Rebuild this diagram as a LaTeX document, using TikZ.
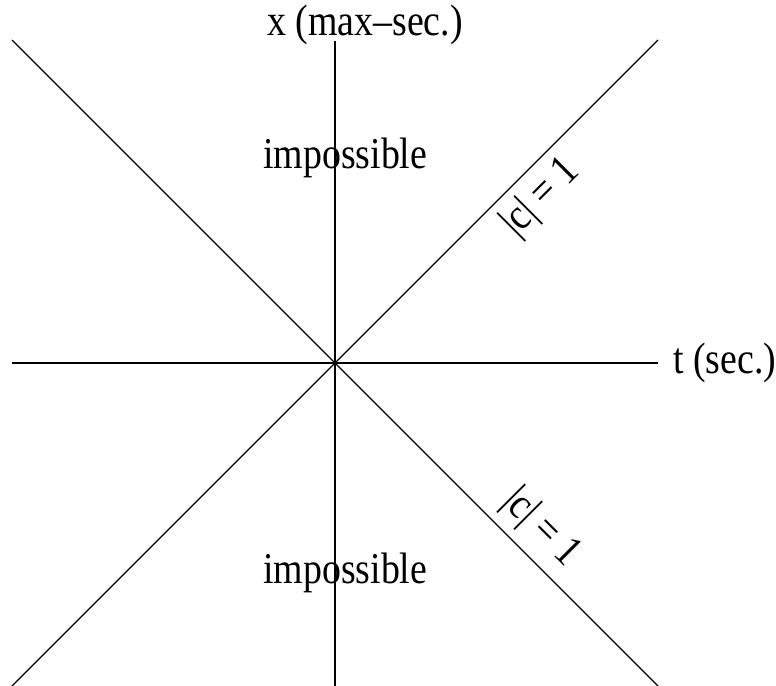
\documentclass[tikz,border=0pt]{standalone}
\usepackage{fontspec}
\setmainfont{Liberation Serif}[FakeStretch=0.86]
\begin{document}
\begin{tikzpicture}[x=0.75pt,y=-0.75pt,
  axis/.style={line width=0.9pt,black},
  lbl/.style={inner sep=0pt,font=\fontsize{33pt}{38pt}\selectfont}]
\useasboundingbox (0,0) rectangle (776,686);
\coordinate (O) at (335,363);
\coordinate (L) at (12,363);
\coordinate (R) at (658,363);
\coordinate (T) at (335,41);
\coordinate (B) at (335,686);
\coordinate (UL) at (12,40);
\coordinate (LR) at (658,686);
\coordinate (UR) at (658,40);
\coordinate (LL) at (12,686);
\draw[axis] (L) -- (R);
\draw[axis] (T) -- (B);
\draw[axis] (UL) -- (LR);
\draw[axis] (UR) -- (LL);
\node[lbl,anchor=base] (xl) at (365,35) {x (max–sec.)};
\node[lbl,anchor=base west] (tl) at (673,373) {t (sec.)};
\node[lbl,anchor=base west] (imp1) at (263,168) {impossible};
\node[lbl,anchor=base west] (imp2) at (263,583) {impossible};
\node[lbl,rotate=45] (c1) at (541,198) {|c| = 1};
\node[lbl,rotate=-45] (c2) at (541,528) {|c| = 1};
\end{tikzpicture}
\end{document}
